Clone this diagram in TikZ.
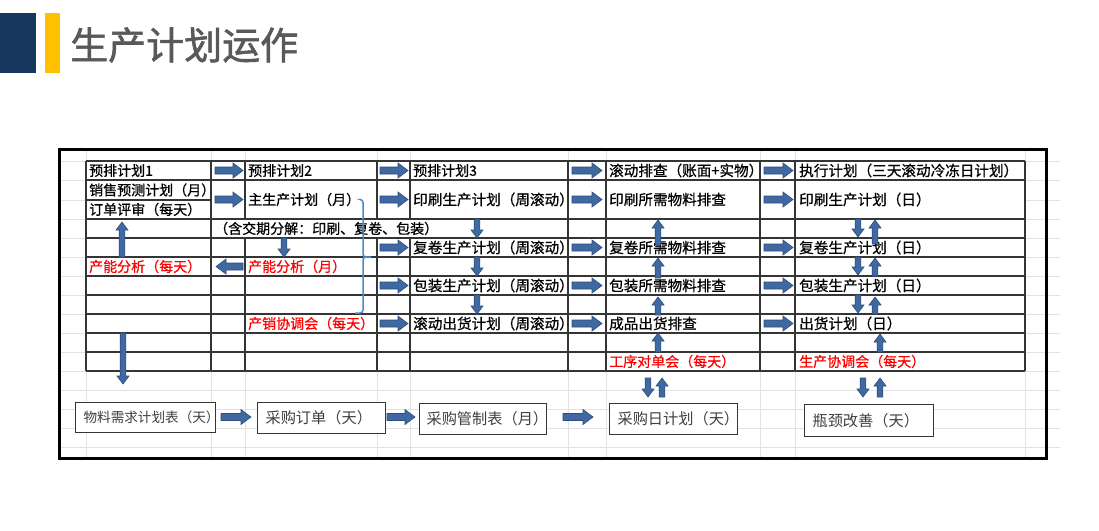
\documentclass[tikz,border=0pt]{standalone}
\usepackage{fontspec}
\setmainfont{Noto Sans CJK SC}
\newfontfamily\titlef[FakeBold=1.4]{Noto Sans CJK SC}
\newfontfamily\cellf[FakeBold=0.7]{Noto Sans CJK SC}
\definecolor{navy}{HTML}{17375E}
\definecolor{gold}{HTML}{FFC000}
\definecolor{titlegray}{HTML}{595959}
\definecolor{arrfill}{HTML}{3F69A0}
\definecolor{arrline}{HTML}{2D4F7F}
\definecolor{gridlight}{HTML}{E2E2E2}
\definecolor{tabline}{HTML}{353535}
\definecolor{bracecol}{HTML}{4F88C6}
\definecolor{boxtext}{HTML}{404040}
\definecolor{redtext}{HTML}{FF0000}
\newcommand\vblock[3]{%
  \pgfmathsetmacro\hdoff{(#3>#2) ? -8 : 8}%
  \path[blockarrow] ({#1-2.8},#2) -- ({#1-2.8},{#3+\hdoff}) -- ({#1-6},{#3+\hdoff}) -- (#1,#3) -- ({#1+6},{#3+\hdoff}) -- ({#1+2.8},{#3+\hdoff}) -- ({#1+2.8},#2) -- cycle;}
\newcommand\hblock[3]{%
  \pgfmathsetmacro\hdoff{(#3>#2) ? -10 : 10}%
  \path[blockarrow] (#2,{#1-3.5}) -- ({#3+\hdoff},{#1-3.5}) -- ({#3+\hdoff},{#1-7.5}) -- (#3,#1) -- ({#3+\hdoff},{#1+7.5}) -- ({#3+\hdoff},{#1+3.5}) -- (#2,{#1+3.5}) -- cycle;}
\begin{document}
\begin{tikzpicture}[x=1pt,y=-1pt,
  blockarrow/.style={fill=arrfill,draw=arrline,line width=0.6pt},
  cell/.style={anchor=west,inner sep=0pt,font=\cellf\fontsize{14}{16}\selectfont,text=black},
  cellbig/.style={cell,font=\cellf\fontsize{14.6}{17}\selectfont},
  redcell/.style={cell,text=redtext},
  tab/.style={draw=tabline,line width=1.1pt},
  light/.style={draw=gridlight,line width=0.8pt},
  bbox/.style={draw=tabline,line width=1.1pt,fill=white,anchor=north west,align=left,inner ysep=0pt,text=boxtext,font=\fontsize{15.2}{17}\selectfont},
  bracestyle/.style={draw=bracecol,line width=1.5pt,rounded corners=3pt}]
\useasboundingbox (0,0) rectangle (1099,530);
\fill[white] (0,0) rectangle (1099,530);
% header
\fill[navy] (0,13) rectangle (36,73);
\fill[gold] (45,13) rectangle (60,73);
\node[anchor=west,inner sep=0pt,font=\titlef\fontsize{38}{40}\selectfont,text=titlegray] (title) at (70,45) {生产计划运作};
% light excel gridlines
\foreach \yy in {161,180,200,219,238,257,276,295,314,333,352,371} {
  \draw[light] (60,\yy) -- (86,\yy);
  \draw[light] (1025,\yy) -- (1060,\yy);
}
\foreach \yy in {390,409,428,447} \draw[light] (60,\yy) -- (1060,\yy);
\foreach \xx in {86,211,245,377,410,568,606,760,795,1025} {
  \draw[light] (\xx,371) -- (\xx,457);
  \draw[light] (\xx,150) -- (\xx,161);
}
% table horizontal lines
\foreach \yy in {161,180,219,238,257,276,295,314,333,352,371} \draw[tab] (86,\yy) -- (1025,\yy);
\draw[tab] (86,200) -- (211,200);
% table vertical lines
\foreach \xx in {86,211,568,606,760,795,1025} \draw[tab] (\xx,161) -- (\xx,371);
\foreach \xx in {245,377,410} {
  \draw[tab] (\xx,161) -- (\xx,219);
  \draw[tab] (\xx,238) -- (\xx,371);
}
% frame
\draw[line width=3pt] (59.5,149.5) rectangle (1046,458.5);
% row 0
\node[cell] (p1) at (89,170.5) {预排计划1};
\node[cell] (p2) at (248,170.5) {预排计划2};
\node[cell] (p3) at (413,170.5) {预排计划3};
\node[cellbig] (roll) at (609,170.5) {滚动排查（账面+实物）};
\node[cellbig] (exec) at (799,170.5) {执行计划（三天滚动冷冻日计划）};
% row 1
\node[cell] (sales) at (89,190) {销售预测计划（月）};
\node[cell] (order) at (89,209.5) {订单评审（每天）};
\node[cell] (mps) at (248,199.5) {主生产计划（月）};
\node[cellbig] (printw) at (413,199.5) {印刷生产计划（周滚动）};
\node[cellbig] (printm) at (609,199.5) {印刷所需物料排查};
\node[cellbig] (printd) at (799,199.5) {印刷生产计划（日）};
% row 2
\node[cell] (split) at (214,228.5) {（含交期分解：印刷、复卷、包装）};
% row 3
\node[cellbig] (rewindw) at (413,247.5) {复卷生产计划（周滚动）};
\node[cellbig] (rewindm) at (609,247.5) {复卷所需物料排查};
\node[cellbig] (rewindd) at (799,247.5) {复卷生产计划（日）};
% row 4
\node[redcell] (capd) at (89,266.5) {产能分析（每天）};
\node[redcell] (capm) at (248,266.5) {产能分析（月）};
% row 5
\node[cellbig] (packw) at (413,285.5) {包装生产计划（周滚动）};
\node[cellbig] (packm) at (609,285.5) {包装所需物料排查};
\node[cellbig] (packd) at (799,285.5) {包装生产计划（日）};
% row 7
\node[redcell] (psmeet) at (248,323.5) {产销协调会（每天）};
\node[cellbig] (shipw) at (413,323.5) {滚动出货计划（周滚动）};
\node[cellbig] (shipc) at (609,323.5) {成品出货排查};
\node[cellbig] (shipd) at (799,323.5) {出货计划（日）};
% row 9
\node[redcell] (procmeet) at (609,361.5) {工序对单会（每天）};
\node[redcell] (prodmeet) at (799,361.5) {生产协调会（每天）};
% bottom boxes
\node[bbox,font=\fontsize{13.6}{16}\selectfont,minimum height=30pt,text width=124pt,inner xsep=8pt] (mrp) at (75,402) {物料需求计划表（天）};
\node[bbox,minimum height=31pt,text width=112pt,inner xsep=8pt] (po) at (257,402) {采购订单（天）};
\node[bbox,minimum height=31pt,text width=113pt,inner xsep=7pt] (pctl) at (419,403) {采购管制表（月）};
\node[bbox,minimum height=31pt,text width=112pt,inner xsep=8pt] (pday) at (609,403) {采购日计划（天）};
\node[bbox,minimum height=32pt,text width=113pt,inner xsep=8pt] (neck) at (804,404) {瓶颈改善（天）};
% brace
\draw[bracestyle] (mps.east) -| (363,257) -- (371,257);
\draw[bracestyle] (371,257) -- (363,257) |- (355,313);
% horizontal block arrows
\foreach \yy in {170.5,199.5} \hblock{\yy}{215}{243};
\foreach \yy in {170.5,199.5,247.5,285.5,323.5} {
  \hblock{\yy}{380}{408}
  \hblock{\yy}{572}{602}
  \hblock{\yy}{764}{793}
}
\hblock{266.5}{243}{216}
\hblock{417}{221}{251}
\hblock{417}{387}{415}
\hblock{417}{563}{593}
% vertical block arrows
\vblock{122}{257}{222}
\vblock{284}{238}{257}
\vblock{477}{219}{238}
\vblock{477}{257}{276}
\vblock{477}{295}{314}
\vblock{658}{245}{220}
\vblock{658}{278}{258}
\vblock{658}{315}{297}
\vblock{658}{352}{333}
\foreach \yy in {219,257,295} {
  \vblock{858}{\yy}{\yy+18}
}
\vblock{875}{244}{220}
\vblock{875}{276}{258}
\vblock{875}{314}{297}
\vblock{880}{352}{334}
\vblock{123}{333}{384}
\vblock{648}{378}{397}
\vblock{662}{397}{378}
\vblock{863}{378}{397}
\vblock{880}{397}{378}
\end{tikzpicture}
\end{document}
